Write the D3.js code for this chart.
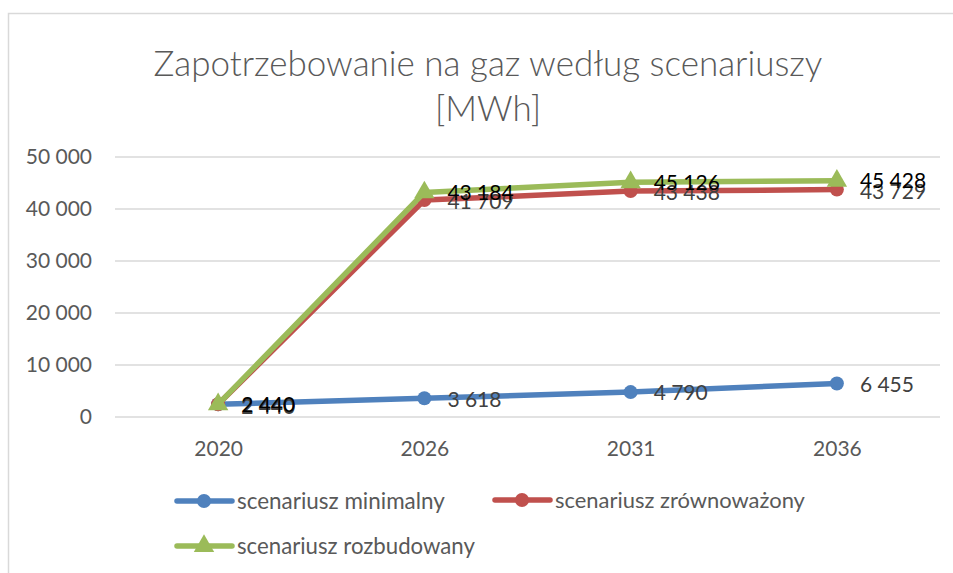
<!DOCTYPE html>
<html>
<head>
<meta charset="utf-8">
<script src="https://cdn.jsdelivr.net/npm/d3@7"></script>
<style>
  body { margin: 0; background: #fff; }
  svg { display: block; font-family: Lato, "Open Sans", sans-serif; }
</style>
</head>
<body>
<div id="chart"></div>
<script>
// data
let years = ["2020", "2026", "2031", "2036"];
let minimalny = [2440, 3618, 4790, 6455];
let zrownowazony = [2440, 41709, 43438, 43729];
let rozbudowany = [2440, 43184, 45126, 45428];
let yTicks = [0, 10000, 20000, 30000, 40000, 50000];
let seriesNames = ["scenariusz minimalny", "scenariusz zrównoważony", "scenariusz rozbudowany"];

let series = [
    {name: seriesNames[0], values: minimalny, color: "#4f81bd", marker: "circle", labelColor: "#404040"},
    {name: seriesNames[1], values: zrownowazony, color: "#c0504d", marker: "circle", labelColor: "#404040"},
    {name: seriesNames[2], values: rozbudowany, color: "#9bbb59", marker: "triangle", labelColor: "#000000"}
];

let W = 953, H = 573;
let plot = {left: 115, right: 940, top: 157, bottom: 417};

let svg = d3.select("#chart").append("svg")
    .attr("width", W)
    .attr("height", H);

// outer frame
svg.append("rect")
    .attr("x", 8.5).attr("y", 13.5)
    .attr("width", W + 10).attr("height", H + 10)
    .attr("fill", "#fff")
    .attr("stroke", "#d9d9d9")
    .attr("stroke-width", 1.5);

let x = d3.scalePoint().domain(years).range([plot.left, plot.right]).padding(0.5);
let y = d3.scaleLinear().domain([0, 50000]).range([plot.bottom, plot.top]);

let fmt = v => d3.format(",")(v).replace(/,/g, " ");

// title
let title = svg.append("g").attr("fill", "#595959").attr("font-size", 32)
    .attr("font-weight", 300).attr("text-anchor", "middle");
let t1 = title.append("text").attr("x", 488).attr("y", 76).text("Zapotrzebowanie na gaz według scenariuszy");
title.append("text").attr("x", 488).attr("y", 121).text("[MWh]");
// fit title width to reference (~669px)
let tw = t1.node().getComputedTextLength();
title.attr("font-size", 32 * 669 / tw);

// gridlines
svg.append("g")
    .selectAll("line")
    .data(yTicks)
    .enter().append("line")
    .attr("x1", plot.left).attr("x2", plot.right)
    .attr("y1", d => y(d)).attr("y2", d => y(d))
    .attr("stroke", "#d9d9d9")
    .attr("stroke-width", 1.5);

// y axis labels
let yAxis = svg.append("g")
    .attr("transform", "translate(" + (plot.left - 23) + ",0)")
    .call(d3.axisLeft(y).tickValues(yTicks).tickFormat(fmt).tickSize(0).tickPadding(0));
yAxis.select(".domain").remove();
yAxis.selectAll("text").attr("fill", "#595959").attr("font-size", 21).attr("font-family", "Lato, sans-serif");

// x axis labels
let xAxis = svg.append("g")
    .attr("transform", "translate(0," + (plot.bottom + 24) + ")")
    .call(d3.axisBottom(x).tickSize(0).tickPadding(0));
xAxis.select(".domain").remove();
xAxis.selectAll("text").attr("fill", "#595959").attr("font-size", 21).attr("font-family", "Lato, sans-serif");

let line = d3.line()
    .x((d, i) => x(years[i]))
    .y(d => y(d));

let tri = d3.symbol().type(d3.symbolTriangle).size(180);

function drawMarker(g, s, cx, cy) {
    if (s.marker === "circle") {
        g.append("circle").attr("cx", cx).attr("cy", cy).attr("r", 7).attr("fill", s.color);
    } else {
        g.append("path").attr("d", tri).attr("transform", "translate(" + cx + "," + cy + ")").attr("fill", s.color);
    }
}

// series lines, markers
series.forEach(function(s) {
    let g = svg.append("g");
    g.append("path")
        .datum(s.values)
        .attr("d", line)
        .attr("fill", "none")
        .attr("stroke", s.color)
        .attr("stroke-width", 5.5)
        .attr("stroke-linejoin", "round")
        .attr("stroke-linecap", "round");
    s.values.forEach(function(v, i) {
        drawMarker(g, s, x(years[i]), y(v));
    });
});

// data labels
let labelDy = [1, 2, 0];
series.forEach(function(s, k) {
    svg.append("g")
        .selectAll("text")
        .data(s.values)
        .enter().append("text")
        .attr("x", (d, i) => x(years[i]) + 23)
        .attr("y", d => y(d) + labelDy[k])
        .attr("dy", "0.35em")
        .attr("fill", s.labelColor)
        .attr("font-size", 21)
        .text(d => fmt(d));
});

// legend
let legendPos = [[177, 501], [495, 500], [177, 546]];
let legendWidth = [208, 250, 238];
series.forEach(function(s, k) {
    let lx = legendPos[k][0], ly = legendPos[k][1];
    let g = svg.append("g");
    g.append("line")
        .attr("x1", lx).attr("x2", lx + 55)
        .attr("y1", ly).attr("y2", ly)
        .attr("stroke", s.color).attr("stroke-width", 5.5).attr("stroke-linecap", "round");
    drawMarker(g, s, lx + 27, ly);
    let t = g.append("text")
        .attr("x", lx + 60).attr("y", ly)
        .attr("dy", "0.35em")
        .attr("fill", "#595959")
        .attr("font-size", 22)
        .text(s.name);
    let w = t.node().getComputedTextLength();
    t.attr("font-size", 22 * legendWidth[k] / w);
});
</script>
</body>
</html>
